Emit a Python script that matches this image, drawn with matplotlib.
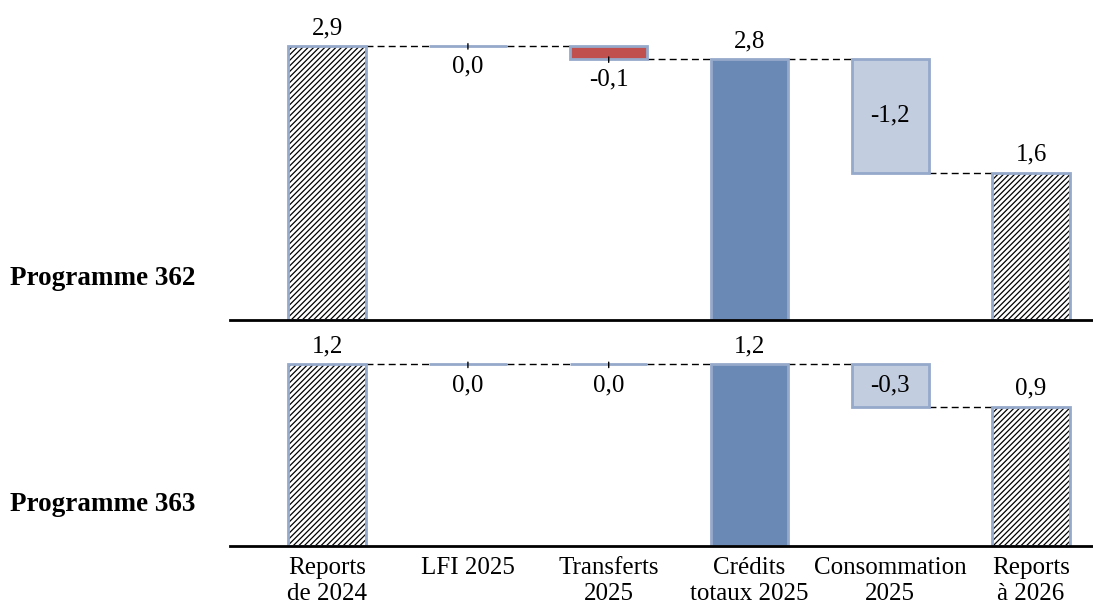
import matplotlib
matplotlib.use("Agg")
import matplotlib.pyplot as plt
import numpy as np

categories = ["Reports\nde 2024", "LFI 2025", "Transferts\n2025",
              "Crédits\ntotaux 2025", "Consommation\n2025", "Reports\nà 2026"]
kinds = ["total", "delta", "delta", "total", "delta", "total"]
programmes = ["Programme 362", "Programme 363"]
values_362 = [2.9, 0.0, -0.14, 2.76, -1.2, 1.56]
values_363 = [1.2, 0.0, 0.0, 1.2, -0.28, 0.92]
ylims = [3.28, 1.46]

plt.rcParams['font.family'] = ['Liberation Serif', 'DejaVu Serif']
plt.rcParams['hatch.linewidth'] = 0.9

EDGE = "#95A9CB"
C_TOTAL = "#6A8AB5"
C_NEG = "#C3CDE0"
C_RED = "#C0504D"
FS = 18

fig = plt.figure(figsize=(10.93, 6.07), dpi=100)
left, width = 230 / 1093, 863 / 1093
ax1 = fig.add_axes([left, (607 - 320) / 607, width, 310 / 607])
ax2 = fig.add_axes([left, (607 - 546) / 607, width, 221 / 607])

x = np.arange(len(categories))
bw = 0.55


def fmt(v):
    return f"{v:.1f}".replace(".", ",").replace("-0,0", "0,0")


def draw(ax, vals, ylim, prog):
    ax.set_xlim(-0.69, 5.44)
    ax.set_ylim(0, ylim)
    for s in ["left", "right", "top"]:
        ax.spines[s].set_visible(False)
    ax.spines["bottom"].set_linewidth(2)
    ax.spines["bottom"].set_color("black")
    ax.set_yticks([])
    ax.tick_params(axis="x", length=0, labelsize=FS, pad=8)
    running = 0.0
    ends = []
    ppu = ax.bbox.height / ylim
    for i, (k, v) in enumerate(zip(kinds, vals)):
        if k == "total":
            top = v
            running = v
            if i in (0, len(vals) - 1):
                ax.bar(x[i], top, bw, bottom=0, color="white", hatch="//////",
                       edgecolor="black", linewidth=0)
                ax.bar(x[i], top, bw, bottom=0, fill=False, edgecolor=EDGE, linewidth=2)
            else:
                ax.bar(x[i], top, bw, bottom=0, color=C_TOTAL, edgecolor=EDGE, linewidth=2)
            ax.annotate(fmt(v), (x[i], top), xytext=(0, 5), textcoords="offset points",
                        ha="center", va="bottom", fontsize=FS)
            ends.append(top)
        else:
            start = running
            end = running + v
            col = C_RED if (v < 0 and abs(v) * ppu < 20) else C_NEG
            ax.bar(x[i], end - start, bw, bottom=start, color=col, edgecolor=EDGE, linewidth=2)
            if abs(v) * ppu > 30:
                ax.text(x[i], (start + end) / 2, fmt(v), ha="center", va="center", fontsize=FS)
            else:
                low = min(start, end)
                ax.annotate("", (x[i], low - 6 / ppu), xytext=(x[i], low + 5 / ppu),
                            arrowprops=dict(arrowstyle="-", color="black", lw=1))
                ax.annotate(fmt(v), (x[i], low), xytext=(0, -7), textcoords="offset points",
                            ha="center", va="top", fontsize=FS)
            running = end
            ends.append(end)
    for i in range(len(vals) - 1):
        ax.plot([x[i] + bw / 2, x[i + 1] - bw / 2], [ends[i], ends[i]],
                ls=(0, (5, 3)), color="black", lw=1, zorder=0)
    fig.text(0.009, ax.get_position().y0 + 0.068, prog, fontsize=19.5, fontweight="bold",
             ha="left", va="center")


draw(ax1, values_362, ylims[0], programmes[0])
draw(ax2, values_363, ylims[1], programmes[1])
ax1.set_xticks(x)
ax1.set_xticklabels([])
ax2.set_xticks(x)
labs = ax2.set_xticklabels(categories)
for t in labs:
    t.set_multialignment("center")
    t.set_linespacing(1.2)

fig.savefig("out.png", dpi=100)
